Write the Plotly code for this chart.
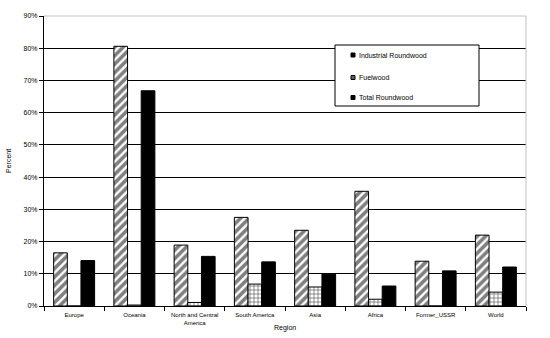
import plotly.graph_objects as go

regions = ["Europe", "Oceania", "North and Central<br>America", "South America",
           "Asia", "Africa", "Former_USSR", "World"]
industrial = [0.165, 0.806, 0.189, 0.275, 0.235, 0.356, 0.139, 0.220]
fuelwood = [0.0, 0.003, 0.011, 0.068, 0.059, 0.021, 0.0, 0.043]
total = [0.141, 0.668, 0.154, 0.137, 0.099, 0.062, 0.109, 0.121]
series_names = ["Industrial Roundwood", "Fuelwood", "Total Roundwood"]
y_ticks = [0, 0.1, 0.2, 0.3, 0.4, 0.5, 0.6, 0.7, 0.8, 0.9]
y_tick_text = ["0%", "10%", "20%", "30%", "40%", "50%", "60%", "70%", "80%", "90%"]

FONT = "Liberation Sans, Arial, sans-serif"

hatch = dict(color="white", line=dict(color="black", width=1),
             pattern=dict(shape="/", fgcolor="black", bgcolor="white",
                          size=6, solidity=0.6))
brick = dict(color="white", line=dict(color="black", width=1),
             pattern=dict(shape="+", fgcolor="black", bgcolor="white",
                          size=4, solidity=0.4))
solid = dict(color="black", line=dict(color="black", width=1))

fig = go.Figure()
fig.add_trace(go.Bar(name=series_names[0], x=regions, y=industrial, marker=hatch))
fig.add_trace(go.Bar(name=series_names[1], x=regions, y=fuelwood, marker=brick))
fig.add_trace(go.Bar(name=series_names[2], x=regions, y=total, marker=solid))

# plot area in pixels: x 44..526, y 16..306
def px_x(p):
    return (p - 44) / 482.0

def px_y(p):
    return (306 - p) / 290.0

shapes = [
    # light grey frame on top and right
    dict(type="line", xref="paper", yref="paper", x0=0, x1=1, y0=1, y1=1,
         line=dict(color="#c0c0c0", width=1), layer="above"),
    dict(type="line", xref="paper", yref="paper", x0=1, x1=1, y0=0, y1=1,
         line=dict(color="#c0c0c0", width=1), layer="above"),
    # legend box
    dict(type="rect", xref="paper", yref="paper",
         x0=px_x(335), x1=px_x(479), y0=px_y(106), y1=px_y(45),
         fillcolor="white", line=dict(color="black", width=1), layer="above"),
]
annotations = []
legend_rows = [55, 77.5, 97.5]
legend_fill = ["black", "#606060", "black"]
for name, row, fill in zip(series_names, legend_rows, legend_fill):
    shapes.append(dict(type="rect", xref="paper", yref="paper",
                       x0=px_x(351), x1=px_x(355), y0=px_y(row + 2), y1=px_y(row - 2),
                       fillcolor=fill, line=dict(color="black", width=1), layer="above"))
    annotations.append(dict(text=name, xref="paper", yref="paper",
                            x=px_x(357), y=px_y(row), xanchor="left", yanchor="middle",
                            showarrow=False, font=dict(size=7)))

annotations.append(dict(text="Percent", xref="paper", yref="paper",
                        x=px_x(8), y=px_y(161), textangle=-90,
                        xanchor="center", yanchor="middle", showarrow=False,
                        font=dict(size=7)))
annotations.append(dict(text="Region", xref="paper", yref="paper",
                        x=px_x(285), y=px_y(328),
                        xanchor="center", yanchor="middle", showarrow=False,
                        font=dict(size=7)))

fig.update_layout(
    width=550, height=338,
    margin=dict(l=44, r=24, t=16, b=32),
    paper_bgcolor="white", plot_bgcolor="white",
    barmode="group", bargap=0.32, bargroupgap=0,
    font=dict(family=FONT, size=7, color="black"),
    showlegend=False,
    xaxis=dict(
        automargin=False,
        showline=True, linecolor="black", linewidth=1,
        ticks="outside", tickson="boundaries", ticklen=4, tickcolor="black",
        tickfont=dict(size=6), ticklabelstandoff=3,
        showgrid=False,
    ),
    yaxis=dict(
        automargin=False,
        range=[0, 0.9], tickvals=y_ticks, ticktext=y_tick_text,
        showline=True, linecolor="black", linewidth=1,
        ticks="outside", ticklen=4, tickcolor="black",
        tickfont=dict(size=7),
        showgrid=True, gridcolor="black", gridwidth=1,
        zeroline=False,
    ),
    shapes=shapes,
    annotations=annotations,
)

fig.write_html("out.html")
